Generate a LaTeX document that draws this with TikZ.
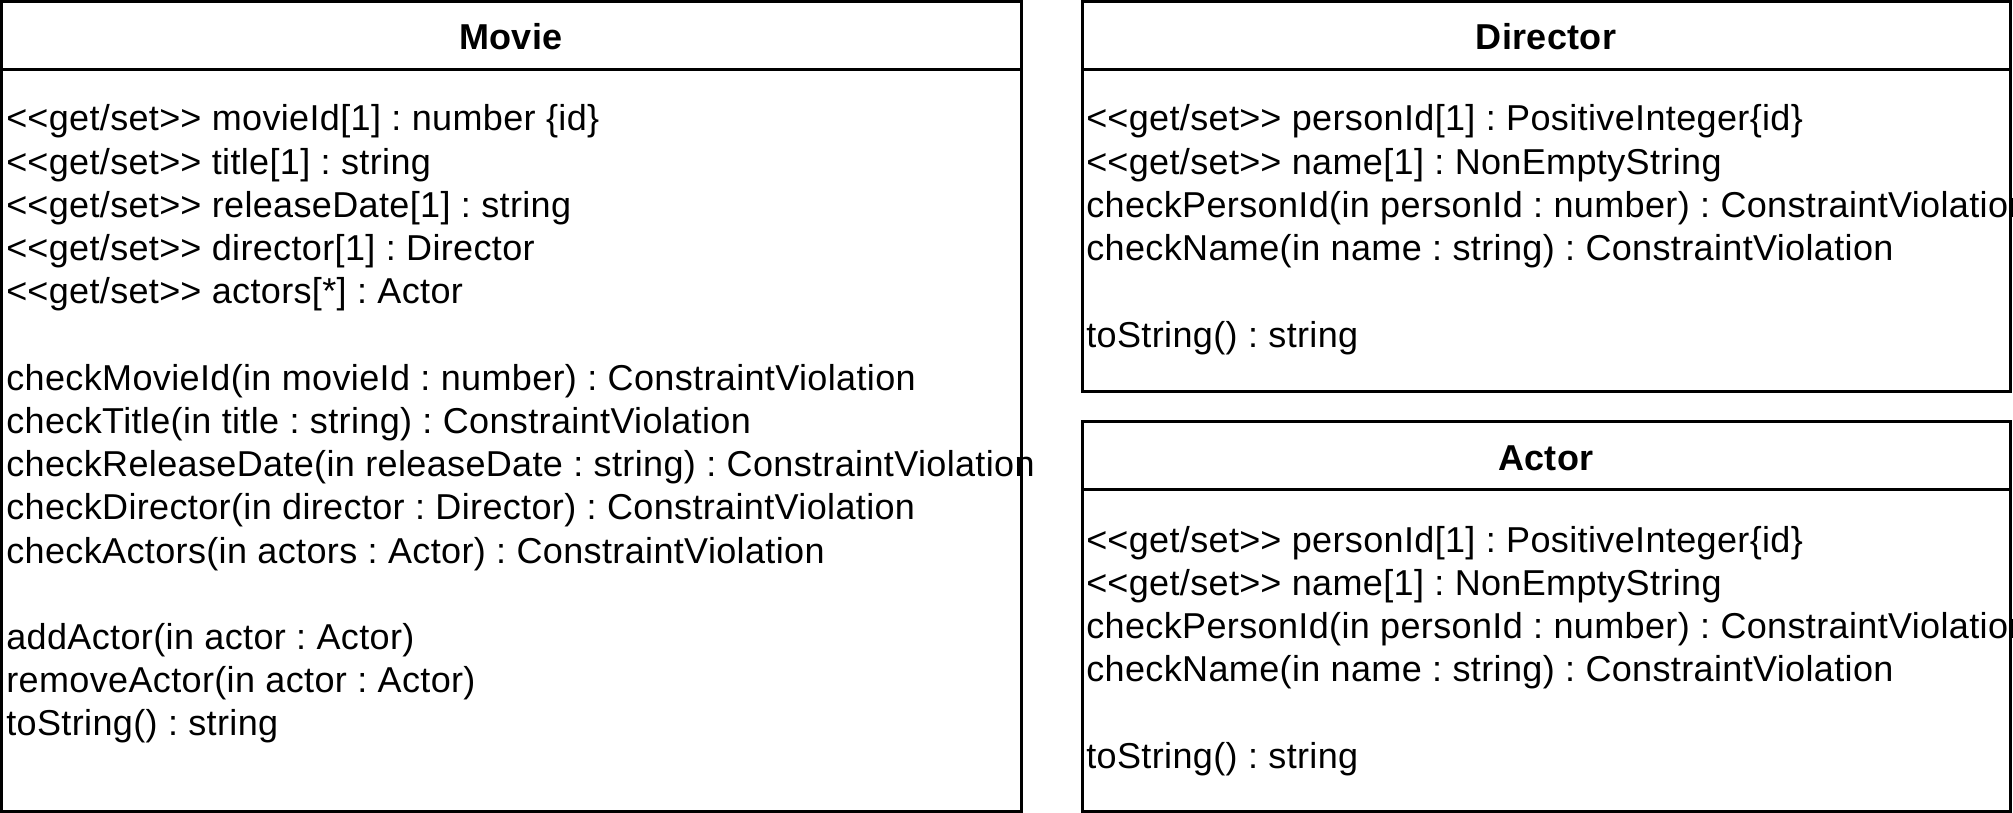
\documentclass[tikz,border=0pt]{standalone}
\usepackage{fontspec}
\setmainfont{Liberation Sans}[LetterSpace=1.0]
\frenchspacing
\newcommand{\getset}{<\kern0pt<get/set>\kern0pt>}

\begin{document}
\begin{tikzpicture}[
    x=0.5pt, y=-0.5pt,
    every node/.style={font=\fontsize{18}{21.6}\selectfont, inner sep=0pt},
    classbox/.style={draw, line width=1.5pt},
    classname/.style={anchor=base, font=\fontsize{18}{21.6}\selectfont\bfseries},
    member/.style={anchor=base west}
]

\useasboundingbox (0,0) rectangle (2013,813);
\clip (0,0) rectangle (2013,813);

% Movie
\draw[classbox] (1.5,1.5) rectangle (1021,811.5);
\draw[classbox] (1.5,70) -- (1021,70);
\node[classname] (movie) at (511,50) {Movie};
\foreach \txt [count=\i from 0] in {
    {\getset{} movieId[1] : number \{id\}},
    {\getset{} title[1] : string},
    {\getset{} releaseDate[1] : string},
    {\getset{} director[1] : Director},
    {\getset{} actors[*] : Actor},
    {},
    {checkMovieId(in movieId : number) : ConstraintViolation},
    {checkTitle(in title : string) : ConstraintViolation},
    {checkReleaseDate(in releaseDate : string) : ConstraintViolation},
    {checkDirector(in director : Director) : ConstraintViolation},
    {checkActors(in actors : Actor) : ConstraintViolation},
    {},
    {addActor(in actor : Actor)},
    {removeActor(in actor : Actor)},
    {toString() : string}} {
    \node[member] (movie-\i) at (6,131+43.2*\i) {\txt};
}

% Director
\draw[classbox] (1082,1.5) rectangle (2010,391);
\draw[classbox] (1082,70) -- (2010,70);
\node[classname] (director) at (1546,50) {Director};
\foreach \txt [count=\i from 0] in {
    {\getset{} personId[1] : PositiveInteger\{id\}},
    {\getset{} name[1] : NonEmptyString},
    {checkPersonId(in personId : number) : ConstraintViolation},
    {checkName(in name : string) : ConstraintViolation},
    {},
    {toString() : string}} {
    \node[member] (director-\i) at (1086,131+43.2*\i) {\txt};
}

% Actor
\draw[classbox] (1082,421) rectangle (2010,811.5);
\draw[classbox] (1082,489) -- (2010,489);
\node[classname] (actor) at (1546,470) {Actor};
\foreach \txt [count=\i from 0] in {
    {\getset{} personId[1] : PositiveInteger\{id\}},
    {\getset{} name[1] : NonEmptyString},
    {checkPersonId(in personId : number) : ConstraintViolation},
    {checkName(in name : string) : ConstraintViolation},
    {},
    {toString() : string}} {
    \node[member] (actor-\i) at (1086,552+43.2*\i) {\txt};
}

\end{tikzpicture}
\end{document}
